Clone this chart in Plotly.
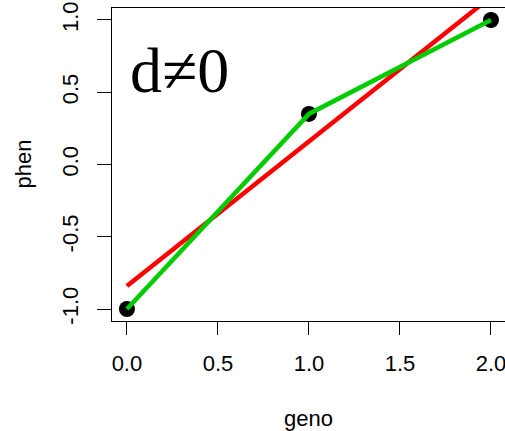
import plotly.graph_objects as go

geno = [0, 1, 2]
phen = [-1.0, 0.35, 1.0]
fit_x = [0, 2]
fit_y = [-0.84, 1.16]
x_ticks = [0.0, 0.5, 1.0, 1.5, 2.0]
x_tick_labels = ["0.0", "0.5", "1.0", "1.5", "2.0"]
y_ticks = [-1.0, -0.5, 0.0, 0.5, 1.0]
y_tick_labels = ["-1.0", "-0.5", "0.0", "0.5", "1.0"]
label_text = "d\u22600"

font_sans = "Liberation Sans, Arial, sans-serif"
fs = 22

fig = go.Figure()
fig.add_trace(go.Scatter(x=geno, y=phen, mode="markers",
                         marker=dict(color="black", size=16), cliponaxis=False,
                         showlegend=False))
fig.add_trace(go.Scatter(x=fit_x, y=fit_y, mode="lines",
                         line=dict(color="#FF0000", width=4.5), showlegend=False))
fig.add_trace(go.Scatter(x=geno, y=phen, mode="lines",
                         line=dict(color="#00CD00", width=4.5), showlegend=False))

fig.add_annotation(x=0.29, y=0.65, xref="x", yref="y", text=label_text,
                   showarrow=False, font=dict(family="Liberation Serif, Times New Roman, serif",
                                              size=64, color="black"),
                   xanchor="center", yanchor="middle")
fig.add_annotation(x=0, y=0.5, xref="paper", yref="paper", text="phen",
                   showarrow=False, textangle=-90, xshift=-89,
                   xanchor="center", yanchor="middle",
                   font=dict(family=font_sans, size=fs, color="black"))
fig.add_annotation(x=0.499, y=0, xref="paper", yref="paper", text="geno",
                   showarrow=False, yshift=-97, xanchor="center", yanchor="middle",
                   font=dict(family=font_sans, size=fs, color="black"))

fig.update_layout(
    width=505, height=431,
    margin=dict(l=112, r=0, t=8, b=110),
    paper_bgcolor="white", plot_bgcolor="white",
    font=dict(family=font_sans, size=fs, color="black"),
    xaxis=dict(range=[-0.082, 2.077], tickvals=x_ticks, ticktext=x_tick_labels,
               ticks="outside", ticklen=13, tickwidth=1.3, tickcolor="black",
               showline=True, linecolor="black", linewidth=1.3, mirror=True,
               showgrid=False, zeroline=False, ticklabelstandoff=9,
               ticklabeloverflow="allow"),
    yaxis=dict(range=[-1.083, 1.083], tickvals=y_ticks, ticktext=y_tick_labels,
               ticks="outside", ticklen=14, tickwidth=1.3, tickcolor="black",
               showline=True, linecolor="black", linewidth=1.3,
               showgrid=False, zeroline=False, tickangle=-90, ticklabelstandoff=10,
               ticklabeloverflow="allow"),
)

fig.write_html("out.html")
